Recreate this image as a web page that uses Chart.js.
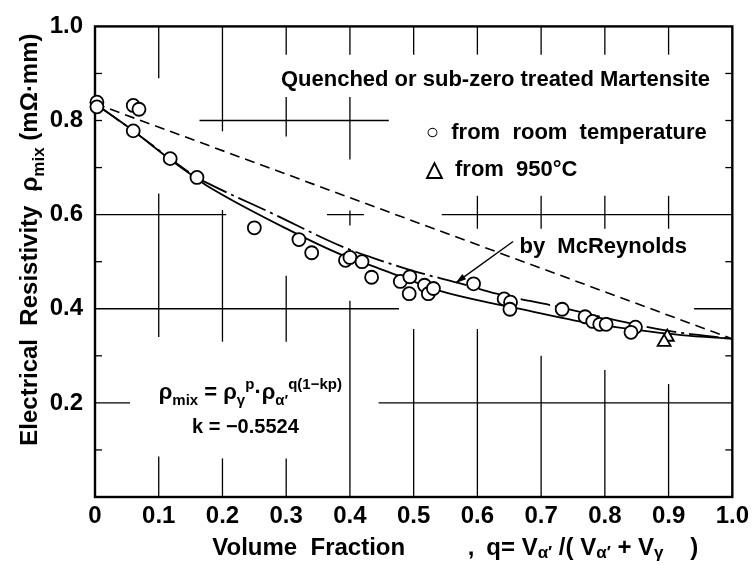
<!DOCTYPE html>
<html>
<head>
<meta charset="utf-8">
<script src="https://cdn.jsdelivr.net/npm/chart.js@4.4.0/dist/chart.umd.min.js"></script>
<style>
  html, body { margin: 0; padding: 0; background: #fff; }
</style>
</head>
<body>
<canvas id="myChart" width="754" height="565"></canvas>
<script>
// measured points, q = volume fraction of martensite
var roomQ   = [0.003, 0.003, 0.060, 0.069, 0.060, 0.118, 0.160, 0.250, 0.320, 0.340, 0.393, 0.400, 0.419, 0.434,
               0.479, 0.494, 0.493, 0.517, 0.523, 0.531, 0.594, 0.642, 0.652, 0.651, 0.733, 0.769, 0.781, 0.792,
               0.802, 0.848, 0.841];
var roomRho = [0.839, 0.829, 0.832, 0.824, 0.778, 0.719, 0.679, 0.572, 0.547, 0.519, 0.503, 0.509, 0.500, 0.467,
               0.458, 0.468, 0.432, 0.450, 0.432, 0.443, 0.453, 0.421, 0.414, 0.399, 0.399, 0.383, 0.373, 0.367,
               0.367, 0.361, 0.350];
var hotQ   = [0.898, 0.893];
var hotRho = [0.340, 0.329];

// curves
var fitQ   = [0, 0.060, 0.118, 0.160, 0.175, 0.305, 0.388, 0.445, 0.544, 0.633, 0.669, 0.753, 0.850, 0.920, 1.0];
var fitRho = [0.836, 0.778, 0.717, 0.676, 0.662, 0.567, 0.514, 0.486, 0.437, 0.409, 0.399, 0.375, 0.355, 0.344, 0.336];
var mcrQ   = [0, 0.060, 0.118, 0.160, 0.175, 0.279, 0.388, 0.445, 0.500, 0.570, 0.630, 0.720, 0.820, 0.900, 1.0];
var mcrRho = [0.836, 0.778, 0.719, 0.679, 0.668, 0.602, 0.532, 0.504, 0.480, 0.455, 0.432, 0.406, 0.375, 0.353, 0.336];
var mixQ   = [0, 1.0];
var mixRho = [0.836, 0.336];

var xTicks = [0, 0.1, 0.2, 0.3, 0.4, 0.5, 0.6, 0.7, 0.8, 0.9, 1.0];
var xTickLabels = ['0', '0.1', '0.2', '0.3', '0.4', '0.5', '0.6', '0.7', '0.8', '0.9', '1.0'];
var yTicks = [0, 0.2, 0.4, 0.6, 0.8, 1.0];
var yTickLabels = ['', '0.2', '0.4', '0.6', '0.8', '1.0'];

// broken grid of the original drawing, in data units
var gridV = [
    [0.1, [[0.89, 1], [0.34, 0.645], [0, 0.086]]],
    [0.2, [[0.777, 1], [0.33, 0.61], [0, 0.082]]],
    [0.3, [[0.94, 1], [0.766, 0.85], [0.33, 0.47], [0, 0.082]]],
    [0.4, [[0.94, 1], [0.717, 0.85], [0.577, 0.609], [0, 0.417]]],
    [0.5, [[0.94, 1], [0, 0.357]]],
    [0.6, [[0.94, 1], [0.57, 0.64], [0, 0.357]]],
    [0.7, [[0.94, 1], [0.57, 0.64], [0, 0.30]]],
    [0.8, [[0.94, 1], [0.57, 0.64], [0, 0.27]]],
    [0.9, [[0.94, 1], [0.57, 0.64], [0, 0.24]]]
];
var gridH = [
    [0.8, [[0.164, 0.461]]],
    [0.6, [[0, 0.206], [0.364, 0.422], [0.544, 1]]],
    [0.4, [[0, 0.477], [0.94, 1]]],
    [0.2, [[0, 0.055], [0.445, 1]]]
];
var sideTicks = [0.1, 0.3, 0.5, 0.7, 0.8, 0.9];

var FONT = '"Liberation Sans", Arial, sans-serif';

function pts(xs, ys) {
    return xs.map(function(v, i) { return {x: v, y: ys[i]}; });
}

function fontFor(kind, size, small) {
    return 'bold ' + Math.round(kind ? size * small : size) + 'px ' + FONT;
}

// runs: [text, 0 normal | 1 sub | 2 sup]
function drawRuns(ctx, runs, x, y, size, align, small, subDrop) {
    small = small || 0.62;
    subDrop = subDrop === undefined ? 0.28 : subDrop;
    var w = 0;
    runs.forEach(function(r) { ctx.font = fontFor(r[1], size, small); w += ctx.measureText(r[0]).width; });
    var cx = align === 'right' ? x - w : (align === 'center' ? x - w / 2 : x);
    ctx.textAlign = 'left';
    ctx.textBaseline = 'alphabetic';
    runs.forEach(function(r) {
        ctx.font = fontFor(r[1], size, small);
        var dy = r[1] === 1 ? size * subDrop : (r[1] === 2 ? -size * 0.45 : 0);
        ctx.fillText(r[0], cx, y + dy);
        cx += ctx.measureText(r[0]).width;
    });
}

function seg(ctx, x1, y1, x2, y2) {
    ctx.beginPath();
    ctx.moveTo(x1, y1);
    ctx.lineTo(x2, y2);
    ctx.stroke();
}

var paper = {
    id: 'paper',
    beforeDatasetsDraw: function(chart) {
        var ctx = chart.ctx, sx = chart.scales.x, sy = chart.scales.y, a = chart.chartArea;
        ctx.save();
        ctx.strokeStyle = '#000';
        ctx.lineWidth = 1.3;
        gridV.forEach(function(g) {
            var px = sx.getPixelForValue(g[0]);
            g[1].forEach(function(s) { seg(ctx, px, sy.getPixelForValue(s[0]), px, sy.getPixelForValue(s[1])); });
        });
        gridH.forEach(function(g) {
            var py = sy.getPixelForValue(g[0]);
            g[1].forEach(function(s) { seg(ctx, sx.getPixelForValue(s[0]), py, sx.getPixelForValue(s[1]), py); });
        });
        sideTicks.forEach(function(v) {
            var py = sy.getPixelForValue(v);
            seg(ctx, a.left, py, a.left + 7, py);
            seg(ctx, a.right, py, a.right - 7, py);
        });
        ctx.lineWidth = 2.4;
        ctx.strokeRect(a.left, a.top, a.right - a.left, a.bottom - a.top);
        ctx.restore();
    },
    afterDraw: function(chart) {
        var ctx = chart.ctx, sx = chart.scales.x, sy = chart.scales.y, a = chart.chartArea;
        var X = function(v) { return sx.getPixelForValue(v); };
        var Y = function(v) { return sy.getPixelForValue(v); };
        ctx.save();
        ctx.fillStyle = '#000';
        ctx.strokeStyle = '#000';

        drawRuns(ctx, [['Quenched or sub-zero treated Martensite', 0]], X(0.965), Y(0.89) + 8, 22, 'right');
        drawRuns(ctx, [['\u25CB  from  room  temperature', 0]], X(0.519), Y(0.778) + 8, 22, 'left');
        drawRuns(ctx, [['\u25B3  from  950\u00B0C', 0]], X(0.519), Y(0.70) + 8, 22, 'left');
        drawRuns(ctx, [['by  McReynolds', 0]], X(0.666), Y(0.535) + 8, 22, 'left');

        drawRuns(ctx, [['\u03C1', 0], ['mix', 1], [' = ', 0], ['\u03C1', 0], ['\u03B3', 1], ['p', 2], ['\u00B7', 0],
                       ['\u03C1', 0], ['\u03B1\u2032', 1], ['q(1\u2212kp)', 2]], X(0.10), Y(0.224) + 7, 22, 'left', 0.7);
        drawRuns(ctx, [['k = \u22120.5524', 0]], X(0.236), Y(0.151) + 7, 20, 'center');

        // arrow to the McReynolds curve
        var x1 = X(0.656), y1 = Y(0.543), x2 = X(0.566), y2 = Y(0.455);
        ctx.lineWidth = 1.4;
        seg(ctx, x1, y1, x2, y2);
        var ang = Math.atan2(y2 - y1, x2 - x1);
        ctx.beginPath();
        ctx.moveTo(x2, y2);
        ctx.lineTo(x2 - 11 * Math.cos(ang - 0.3), y2 - 11 * Math.sin(ang - 0.3));
        ctx.lineTo(x2 - 11 * Math.cos(ang + 0.3), y2 - 11 * Math.sin(ang + 0.3));
        ctx.closePath();
        ctx.fill();

        // axis titles
        drawRuns(ctx, [['Volume  Fraction', 0]], X(0.184), a.bottom + 58, 24, 'left');
        drawRuns(ctx, [[',', 0]], X(0.585), a.bottom + 58, 24, 'left');
        drawRuns(ctx, [['q= V', 0], ['\u03B1\u2032', 1], [' /( V', 0], ['\u03B1\u2032', 1], [' + V', 0], ['\u03B3', 1], ['    )', 0]],
                 X(0.614), a.bottom + 58, 24, 'left', 0.72, 0.12);

        ctx.translate(a.left - 58, 0);
        ctx.rotate(-Math.PI / 2);
        drawRuns(ctx, [['Electrical  Resistivity  ,', 0]], -Y(0.109), 0, 24, 'left');
        drawRuns(ctx, [['\u03C1', 0], ['mix', 1], [' (m\u03A9\u00B7mm)', 0]], -Y(0.985), 0, 24, 'right', 0.72);
        ctx.restore();
    }
};

(function() {
    Chart.defaults.font.family = FONT;
    Chart.defaults.color = '#000';

    var ctx = document.getElementById('myChart').getContext('2d');
    var myChart = new Chart(ctx, {
        type: 'scatter',
        data: {
            datasets: [{
                label: 'from room temperature',
                data: pts(roomQ, roomRho),
                pointStyle: 'circle',
                pointRadius: 6.5,
                pointBorderWidth: 1.8,
                borderColor: '#000',
                backgroundColor: '#fff',
                clip: false,
                order: 0
            }, {
                label: 'from 950\u00B0C',
                data: pts(hotQ, hotRho),
                pointStyle: 'triangle',
                pointRadius: 7.5,
                pointBorderWidth: 1.8,
                borderColor: '#000',
                backgroundColor: '#fff',
                clip: false,
                order: 0
            }, {
                label: 'formula',
                data: pts(fitQ, fitRho),
                showLine: true,
                pointRadius: 0,
                borderWidth: 1.8,
                borderColor: '#000',
                cubicInterpolationMode: 'monotone',
                order: 1
            }, {
                label: 'by McReynolds',
                data: pts(mcrQ, mcrRho),
                showLine: true,
                pointRadius: 0,
                borderWidth: 1.8,
                borderColor: '#000',
                borderDash: [30, 5, 3, 5],
                cubicInterpolationMode: 'monotone',
                order: 2
            }, {
                label: 'mixture rule',
                data: pts(mixQ, mixRho),
                showLine: true,
                pointRadius: 0,
                borderWidth: 1.6,
                borderColor: '#000',
                borderDash: [10, 6],
                order: 3
            }]
        },
        options: {
            responsive: false,
            animation: false,
            layout: { padding: { top: 20, right: 19, left: 0, bottom: 0 } },
            plugins: { legend: { display: false }, tooltip: { enabled: false } },
            scales: {
                x: {
                    type: 'linear',
                    min: 0,
                    max: 1,
                    afterBuildTicks: function(s) { s.ticks = xTicks.map(function(v) { return {value: v}; }); },
                    afterFit: function(s) { s.height = 68; },
                    grid: { display: false, drawTicks: false },
                    border: { display: false },
                    ticks: {
                        autoSkip: false,
                        maxRotation: 0,
                        padding: 5,
                        font: { size: 24, weight: 'bold' },
                        callback: function(v, i) { return xTickLabels[i]; }
                    }
                },
                y: {
                    type: 'linear',
                    min: 0,
                    max: 1,
                    afterBuildTicks: function(s) { s.ticks = yTicks.map(function(v) { return {value: v}; }); },
                    afterFit: function(s) { s.width = 95; },
                    grid: { display: false, drawTicks: false },
                    border: { display: false },
                    ticks: {
                        autoSkip: false,
                        padding: 12,
                        font: { size: 24, weight: 'bold' },
                        callback: function(v, i) { return yTickLabels[i]; }
                    }
                }
            }
        },
        plugins: [paper]
    });
})();
</script>
</body>
</html>
